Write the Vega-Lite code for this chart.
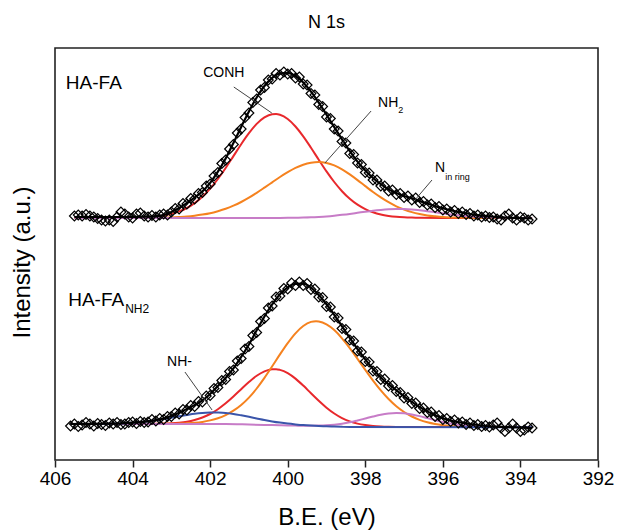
{
"$schema":"https://vega.github.io/schema/vega-lite/v6.json",
"width":543,"height":412,
"autosize":{"type":"none"},
"padding":{"left":55,"top":48,"right":19,"bottom":70},
"background":"white",
"title":{"text":"N 1s","font":"Liberation Sans","fontSize":18,"fontWeight":"normal","color":"black","anchor":"middle","offset":16},
"config":{"view":{"stroke":"#222","strokeWidth":1.6}},
"datasets":{
"comps":[
{"c":"CONH","s":"t","x":405.5,"y":242},{"c":"CONH","s":"t","x":404,"y":242.2},{"c":"CONH","s":"t","x":403.8,"y":242.4},{"c":"CONH","s":"t","x":403.6,"y":242.8},{"c":"CONH","s":"t","x":403.4,"y":243.5},{"c":"CONH","s":"t","x":403.2,"y":244.5},{"c":"CONH","s":"t","x":403,"y":246.1},{"c":"CONH","s":"t","x":402.8,"y":248.6},{"c":"CONH","s":"t","x":402.6,"y":252},{"c":"CONH","s":"t","x":402.4,"y":256.9},{"c":"CONH","s":"t","x":402.2,"y":263.2},{"c":"CONH","s":"t","x":402,"y":271.3},{"c":"CONH","s":"t","x":401.8,"y":281},{"c":"CONH","s":"t","x":401.6,"y":292},{"c":"CONH","s":"t","x":401.4,"y":303.9},{"c":"CONH","s":"t","x":401.2,"y":315.8},{"c":"CONH","s":"t","x":401,"y":326.8},{"c":"CONH","s":"t","x":400.8,"y":336.1},{"c":"CONH","s":"t","x":400.6,"y":342.6},{"c":"CONH","s":"t","x":400.4,"y":345.8},{"c":"CONH","s":"t","x":400.3,"y":346},{"c":"CONH","s":"t","x":400.2,"y":345.2},{"c":"CONH","s":"t","x":400,"y":341},{"c":"CONH","s":"t","x":399.8,"y":333.5},{"c":"CONH","s":"t","x":399.6,"y":323.7},{"c":"CONH","s":"t","x":399.4,"y":312.3},{"c":"CONH","s":"t","x":399.2,"y":300.3},{"c":"CONH","s":"t","x":399,"y":288.6},{"c":"CONH","s":"t","x":398.8,"y":278},{"c":"CONH","s":"t","x":398.6,"y":268.8},{"c":"CONH","s":"t","x":398.4,"y":261.2},{"c":"CONH","s":"t","x":398.2,"y":255.3},{"c":"CONH","s":"t","x":398,"y":250.9},{"c":"CONH","s":"t","x":397.8,"y":247.7},{"c":"CONH","s":"t","x":397.6,"y":245.5},{"c":"CONH","s":"t","x":397.4,"y":244.1},{"c":"CONH","s":"t","x":397.2,"y":243.2},{"c":"CONH","s":"t","x":397,"y":242.7},{"c":"CONH","s":"t","x":396.8,"y":242.4},{"c":"CONH","s":"t","x":396.6,"y":242.2},{"c":"CONH","s":"t","x":396,"y":242},{"c":"CONH","s":"t","x":393.7,"y":242},
{"c":"NH2","s":"t","x":405.5,"y":242},{"c":"NH2","s":"t","x":404,"y":242},{"c":"NH2","s":"t","x":403.6,"y":242.1},{"c":"NH2","s":"t","x":403.4,"y":242.2},{"c":"NH2","s":"t","x":403.2,"y":242.4},{"c":"NH2","s":"t","x":403,"y":242.6},{"c":"NH2","s":"t","x":402.8,"y":243},{"c":"NH2","s":"t","x":402.6,"y":243.5},{"c":"NH2","s":"t","x":402.4,"y":244.3},{"c":"NH2","s":"t","x":402.2,"y":245.4},{"c":"NH2","s":"t","x":402,"y":246.8},{"c":"NH2","s":"t","x":401.8,"y":248.8},{"c":"NH2","s":"t","x":401.6,"y":251.2},{"c":"NH2","s":"t","x":401.4,"y":254.3},{"c":"NH2","s":"t","x":401.2,"y":258},{"c":"NH2","s":"t","x":401,"y":262.3},{"c":"NH2","s":"t","x":400.8,"y":267.2},{"c":"NH2","s":"t","x":400.6,"y":272.4},{"c":"NH2","s":"t","x":400.4,"y":277.7},{"c":"NH2","s":"t","x":400.2,"y":283},{"c":"NH2","s":"t","x":400,"y":287.8},{"c":"NH2","s":"t","x":399.8,"y":292.1},{"c":"NH2","s":"t","x":399.6,"y":295.3},{"c":"NH2","s":"t","x":399.4,"y":297.3},{"c":"NH2","s":"t","x":399.2,"y":298},{"c":"NH2","s":"t","x":399,"y":297.1},{"c":"NH2","s":"t","x":398.8,"y":294.6},{"c":"NH2","s":"t","x":398.6,"y":290.7},{"c":"NH2","s":"t","x":398.4,"y":285.6},{"c":"NH2","s":"t","x":398.2,"y":279.9},{"c":"NH2","s":"t","x":398,"y":273.9},{"c":"NH2","s":"t","x":397.8,"y":268},{"c":"NH2","s":"t","x":397.6,"y":262.6},{"c":"NH2","s":"t","x":397.4,"y":257.8},{"c":"NH2","s":"t","x":397.2,"y":253.7},{"c":"NH2","s":"t","x":397,"y":250.5},{"c":"NH2","s":"t","x":396.8,"y":247.9},{"c":"NH2","s":"t","x":396.6,"y":246},{"c":"NH2","s":"t","x":396.4,"y":244.6},{"c":"NH2","s":"t","x":396.2,"y":243.7},{"c":"NH2","s":"t","x":396,"y":243},{"c":"NH2","s":"t","x":395.8,"y":242.6},{"c":"NH2","s":"t","x":395.6,"y":242.4},{"c":"NH2","s":"t","x":395.4,"y":242.2},{"c":"NH2","s":"t","x":395,"y":242.05},{"c":"NH2","s":"t","x":393.7,"y":242},
{"c":"Nring","s":"t","x":405.5,"y":242},{"c":"Nring","s":"t","x":400.4,"y":242},{"c":"Nring","s":"t","x":400.2,"y":242.1},{"c":"Nring","s":"t","x":400,"y":242.15},{"c":"Nring","s":"t","x":399.8,"y":242.3},{"c":"Nring","s":"t","x":399.6,"y":242.45},{"c":"Nring","s":"t","x":399.4,"y":242.7},{"c":"Nring","s":"t","x":399.2,"y":243.1},{"c":"Nring","s":"t","x":399,"y":243.6},{"c":"Nring","s":"t","x":398.8,"y":244.3},{"c":"Nring","s":"t","x":398.6,"y":245.15},{"c":"Nring","s":"t","x":398.4,"y":246.1},{"c":"Nring","s":"t","x":398.2,"y":247.2},{"c":"Nring","s":"t","x":398,"y":248.3},{"c":"Nring","s":"t","x":397.8,"y":249.3},{"c":"Nring","s":"t","x":397.6,"y":250.1},{"c":"Nring","s":"t","x":397.4,"y":250.7},{"c":"Nring","s":"t","x":397.2,"y":251},{"c":"Nring","s":"t","x":397,"y":250.9},{"c":"Nring","s":"t","x":396.8,"y":250.5},{"c":"Nring","s":"t","x":396.6,"y":249.7},{"c":"Nring","s":"t","x":396.4,"y":248.8},{"c":"Nring","s":"t","x":396.2,"y":247.7},{"c":"Nring","s":"t","x":396,"y":246.65},{"c":"Nring","s":"t","x":395.8,"y":245.6},{"c":"Nring","s":"t","x":395.6,"y":244.7},{"c":"Nring","s":"t","x":395.4,"y":243.95},{"c":"Nring","s":"t","x":395.2,"y":243.35},{"c":"Nring","s":"t","x":395,"y":242.9},{"c":"Nring","s":"t","x":394.8,"y":242.55},{"c":"Nring","s":"t","x":394.6,"y":242.35},{"c":"Nring","s":"t","x":394.4,"y":242.2},{"c":"Nring","s":"t","x":394.2,"y":242.1},{"c":"Nring","s":"t","x":394,"y":242.05},{"c":"Nring","s":"t","x":393.7,"y":242},
{"c":"CONH","s":"b","x":405.6,"y":36},{"c":"CONH","s":"b","x":403.6,"y":36},{"c":"CONH","s":"b","x":403.4,"y":36.2},{"c":"CONH","s":"b","x":403.2,"y":36.4},{"c":"CONH","s":"b","x":403,"y":36.7},{"c":"CONH","s":"b","x":402.8,"y":37.3},{"c":"CONH","s":"b","x":402.6,"y":38.3},{"c":"CONH","s":"b","x":402.4,"y":40},{"c":"CONH","s":"b","x":402.2,"y":42.5},{"c":"CONH","s":"b","x":402,"y":46},{"c":"CONH","s":"b","x":401.8,"y":50.8},{"c":"CONH","s":"b","x":401.6,"y":56.7},{"c":"CONH","s":"b","x":401.4,"y":63.5},{"c":"CONH","s":"b","x":401.2,"y":70.8},{"c":"CONH","s":"b","x":401,"y":77.9},{"c":"CONH","s":"b","x":400.8,"y":84.2},{"c":"CONH","s":"b","x":400.6,"y":88.6},{"c":"CONH","s":"b","x":400.4,"y":90.7},{"c":"CONH","s":"b","x":400.3,"y":90.8},{"c":"CONH","s":"b","x":400.2,"y":90.1},{"c":"CONH","s":"b","x":400,"y":86.9},{"c":"CONH","s":"b","x":399.8,"y":81.4},{"c":"CONH","s":"b","x":399.6,"y":74.4},{"c":"CONH","s":"b","x":399.4,"y":66.7},{"c":"CONH","s":"b","x":399.2,"y":59.2},{"c":"CONH","s":"b","x":399,"y":52.3},{"c":"CONH","s":"b","x":398.8,"y":46.5},{"c":"CONH","s":"b","x":398.6,"y":41.9},{"c":"CONH","s":"b","x":398.4,"y":38.6},{"c":"CONH","s":"b","x":398.2,"y":36.4},{"c":"CONH","s":"b","x":398,"y":35},{"c":"CONH","s":"b","x":397.8,"y":34.1},{"c":"CONH","s":"b","x":397.6,"y":33.6},{"c":"CONH","s":"b","x":397.4,"y":33.3},{"c":"CONH","s":"b","x":397.2,"y":33.1},{"c":"CONH","s":"b","x":397,"y":33},{"c":"CONH","s":"b","x":393.7,"y":33},
{"c":"NH2","s":"b","x":405.6,"y":36},{"c":"NH2","s":"b","x":403,"y":36.2},{"c":"NH2","s":"b","x":402.8,"y":36.4},{"c":"NH2","s":"b","x":402.6,"y":36.7},{"c":"NH2","s":"b","x":402.4,"y":37.2},{"c":"NH2","s":"b","x":402.2,"y":38.1},{"c":"NH2","s":"b","x":402,"y":39.6},{"c":"NH2","s":"b","x":401.8,"y":41.7},{"c":"NH2","s":"b","x":401.6,"y":44.9},{"c":"NH2","s":"b","x":401.4,"y":49.3},{"c":"NH2","s":"b","x":401.2,"y":55},{"c":"NH2","s":"b","x":401,"y":62.4},{"c":"NH2","s":"b","x":400.8,"y":71.5},{"c":"NH2","s":"b","x":400.6,"y":82.1},{"c":"NH2","s":"b","x":400.4,"y":93.7},{"c":"NH2","s":"b","x":400.2,"y":105.6},{"c":"NH2","s":"b","x":400,"y":116.9},{"c":"NH2","s":"b","x":399.8,"y":126.7},{"c":"NH2","s":"b","x":399.6,"y":134},{"c":"NH2","s":"b","x":399.4,"y":138.1},{"c":"NH2","s":"b","x":399.27,"y":138.8},{"c":"NH2","s":"b","x":399.2,"y":138.5},{"c":"NH2","s":"b","x":399,"y":135.6},{"c":"NH2","s":"b","x":398.8,"y":129.9},{"c":"NH2","s":"b","x":398.6,"y":121.7},{"c":"NH2","s":"b","x":398.4,"y":111.9},{"c":"NH2","s":"b","x":398.2,"y":101.1},{"c":"NH2","s":"b","x":398,"y":90.1},{"c":"NH2","s":"b","x":397.8,"y":79.4},{"c":"NH2","s":"b","x":397.6,"y":69.6},{"c":"NH2","s":"b","x":397.4,"y":61},{"c":"NH2","s":"b","x":397.2,"y":53.8},{"c":"NH2","s":"b","x":397,"y":48},{"c":"NH2","s":"b","x":396.8,"y":43.5},{"c":"NH2","s":"b","x":396.6,"y":40.1},{"c":"NH2","s":"b","x":396.4,"y":37.7},{"c":"NH2","s":"b","x":396.2,"y":36},{"c":"NH2","s":"b","x":396,"y":34.85},{"c":"NH2","s":"b","x":395.8,"y":34.1},{"c":"NH2","s":"b","x":395.6,"y":33.6},{"c":"NH2","s":"b","x":395.4,"y":33.4},{"c":"NH2","s":"b","x":395.2,"y":33.2},{"c":"NH2","s":"b","x":395,"y":33.1},{"c":"NH2","s":"b","x":393.7,"y":33},
{"c":"Nring","s":"b","x":405.6,"y":36},{"c":"Nring","s":"b","x":401.6,"y":36},{"c":"Nring","s":"b","x":401,"y":35.5},{"c":"Nring","s":"b","x":400.6,"y":35.1},{"c":"Nring","s":"b","x":400.2,"y":34.7},{"c":"Nring","s":"b","x":400,"y":34.5},{"c":"Nring","s":"b","x":399.8,"y":34.4},{"c":"Nring","s":"b","x":399.6,"y":34.3},{"c":"Nring","s":"b","x":399.4,"y":34.3},{"c":"Nring","s":"b","x":399.2,"y":34.4},{"c":"Nring","s":"b","x":399,"y":34.7},{"c":"Nring","s":"b","x":398.8,"y":35.3},{"c":"Nring","s":"b","x":398.6,"y":36.25},{"c":"Nring","s":"b","x":398.4,"y":37.65},{"c":"Nring","s":"b","x":398.2,"y":39.5},{"c":"Nring","s":"b","x":398,"y":41.5},{"c":"Nring","s":"b","x":397.8,"y":43.5},{"c":"Nring","s":"b","x":397.6,"y":45.3},{"c":"Nring","s":"b","x":397.4,"y":46.5},{"c":"Nring","s":"b","x":397.2,"y":47},{"c":"Nring","s":"b","x":397,"y":46.7},{"c":"Nring","s":"b","x":396.8,"y":45.6},{"c":"Nring","s":"b","x":396.6,"y":43.9},{"c":"Nring","s":"b","x":396.4,"y":41.9},{"c":"Nring","s":"b","x":396.2,"y":39.9},{"c":"Nring","s":"b","x":396,"y":38},{"c":"Nring","s":"b","x":395.8,"y":36.4},{"c":"Nring","s":"b","x":395.6,"y":35.2},{"c":"Nring","s":"b","x":395.4,"y":34.3},{"c":"Nring","s":"b","x":395.2,"y":33.8},{"c":"Nring","s":"b","x":395,"y":33.4},{"c":"Nring","s":"b","x":394.8,"y":33.2},{"c":"Nring","s":"b","x":394.6,"y":33.1},{"c":"Nring","s":"b","x":393.7,"y":33},
{"c":"NH","s":"b","x":405.6,"y":36},{"c":"NH","s":"b","x":405,"y":36.05},{"c":"NH","s":"b","x":404.6,"y":36.2},{"c":"NH","s":"b","x":404.4,"y":36.5},{"c":"NH","s":"b","x":404.2,"y":36.8},{"c":"NH","s":"b","x":404,"y":37.3},{"c":"NH","s":"b","x":403.8,"y":37.9},{"c":"NH","s":"b","x":403.6,"y":38.7},{"c":"NH","s":"b","x":403.4,"y":39.7},{"c":"NH","s":"b","x":403.2,"y":40.9},{"c":"NH","s":"b","x":403,"y":42.3},{"c":"NH","s":"b","x":402.8,"y":43.7},{"c":"NH","s":"b","x":402.6,"y":45},{"c":"NH","s":"b","x":402.4,"y":46.2},{"c":"NH","s":"b","x":402.2,"y":47},{"c":"NH","s":"b","x":402,"y":47.4},{"c":"NH","s":"b","x":401.9,"y":47.5},{"c":"NH","s":"b","x":401.8,"y":47.4},{"c":"NH","s":"b","x":401.6,"y":47},{"c":"NH","s":"b","x":401.4,"y":46.05},{"c":"NH","s":"b","x":401.2,"y":44.7},{"c":"NH","s":"b","x":401,"y":43.2},{"c":"NH","s":"b","x":400.8,"y":41.6},{"c":"NH","s":"b","x":400.6,"y":40},{"c":"NH","s":"b","x":400.4,"y":38.6},{"c":"NH","s":"b","x":400.2,"y":37.4},{"c":"NH","s":"b","x":400,"y":36.4},{"c":"NH","s":"b","x":399.8,"y":35.6},{"c":"NH","s":"b","x":399.6,"y":34.9},{"c":"NH","s":"b","x":399.4,"y":34.4},{"c":"NH","s":"b","x":399.2,"y":34},{"c":"NH","s":"b","x":399,"y":33.7},{"c":"NH","s":"b","x":398.8,"y":33.4},{"c":"NH","s":"b","x":398.6,"y":33.15},{"c":"NH","s":"b","x":398.4,"y":33},{"c":"NH","s":"b","x":393.7,"y":32.8}
],
"fit":[
{"s":"t","x":405.5,"y":243},{"s":"t","x":405,"y":243},{"s":"t","x":404.5,"y":243},{"s":"t","x":404,"y":243},{"s":"t","x":403.8,"y":243.3},{"s":"t","x":403.6,"y":243.4},{"s":"t","x":403.4,"y":243.8},{"s":"t","x":403.2,"y":245},{"s":"t","x":403,"y":248},{"s":"t","x":402.8,"y":252},{"s":"t","x":402.6,"y":257},{"s":"t","x":402.4,"y":262.4},{"s":"t","x":402.2,"y":268.6},{"s":"t","x":402,"y":277.1},{"s":"t","x":401.8,"y":288.3},{"s":"t","x":401.6,"y":301.5},{"s":"t","x":401.4,"y":317},{"s":"t","x":401.2,"y":333},{"s":"t","x":401,"y":348.6},{"s":"t","x":400.8,"y":362.5},{"s":"t","x":400.6,"y":374},{"s":"t","x":400.4,"y":382.2},{"s":"t","x":400.2,"y":386.6},{"s":"t","x":400,"y":387.2},{"s":"t","x":399.8,"y":384},{"s":"t","x":399.6,"y":377.5},{"s":"t","x":399.4,"y":368.3},{"s":"t","x":399.2,"y":357.4},{"s":"t","x":399,"y":345.3},{"s":"t","x":398.8,"y":332.9},{"s":"t","x":398.6,"y":320.7},{"s":"t","x":398.4,"y":308.9},{"s":"t","x":398.2,"y":298.4},{"s":"t","x":398,"y":289.5},{"s":"t","x":397.8,"y":282},{"s":"t","x":397.6,"y":275.8},{"s":"t","x":397.4,"y":270.6},{"s":"t","x":397.2,"y":266.9},{"s":"t","x":397,"y":264},{"s":"t","x":396.8,"y":261.7},{"s":"t","x":396.6,"y":258.9},{"s":"t","x":396.4,"y":256.5},{"s":"t","x":396.2,"y":253.9},{"s":"t","x":396,"y":251.7},{"s":"t","x":395.8,"y":249.7},{"s":"t","x":395.6,"y":248.1},{"s":"t","x":395.4,"y":246.7},{"s":"t","x":395.2,"y":245.4},{"s":"t","x":395,"y":244.4},{"s":"t","x":394.8,"y":243.6},{"s":"t","x":394.6,"y":242.9},{"s":"t","x":394.4,"y":242.5},{"s":"t","x":394.2,"y":242.2},{"s":"t","x":394,"y":242},{"s":"t","x":393.7,"y":241.5},
{"s":"b","x":405.6,"y":36},{"s":"b","x":405,"y":36.1},{"s":"b","x":404.6,"y":36.3},{"s":"b","x":404.4,"y":36.5},{"s":"b","x":404.2,"y":36.8},{"s":"b","x":404,"y":37.3},{"s":"b","x":403.8,"y":37.9},{"s":"b","x":403.6,"y":38.7},{"s":"b","x":403.4,"y":39.9},{"s":"b","x":403.2,"y":41.5},{"s":"b","x":403,"y":44.2},{"s":"b","x":402.8,"y":47.3},{"s":"b","x":402.6,"y":51},{"s":"b","x":402.4,"y":54.9},{"s":"b","x":402.2,"y":59.6},{"s":"b","x":402,"y":66},{"s":"b","x":401.8,"y":74},{"s":"b","x":401.6,"y":82.1},{"s":"b","x":401.4,"y":91.6},{"s":"b","x":401.2,"y":103.1},{"s":"b","x":401,"y":115.5},{"s":"b","x":400.8,"y":129.7},{"s":"b","x":400.6,"y":143.5},{"s":"b","x":400.4,"y":155.7},{"s":"b","x":400.2,"y":165.7},{"s":"b","x":400,"y":172.7},{"s":"b","x":399.8,"y":176.2},{"s":"b","x":399.6,"y":176.3},{"s":"b","x":399.4,"y":172.3},{"s":"b","x":399.2,"y":165},{"s":"b","x":399,"y":155.8},{"s":"b","x":398.8,"y":145.2},{"s":"b","x":398.6,"y":133.7},{"s":"b","x":398.4,"y":122.2},{"s":"b","x":398.2,"y":111},{"s":"b","x":398,"y":100.6},{"s":"b","x":397.8,"y":91},{"s":"b","x":397.6,"y":82.5},{"s":"b","x":397.4,"y":75.8},{"s":"b","x":397.2,"y":69.9},{"s":"b","x":397,"y":63.7},{"s":"b","x":396.8,"y":58.1},{"s":"b","x":396.6,"y":53},{"s":"b","x":396.4,"y":48.6},{"s":"b","x":396.2,"y":44.8},{"s":"b","x":396,"y":41.8},{"s":"b","x":395.8,"y":39.5},{"s":"b","x":395.6,"y":37.8},{"s":"b","x":395.4,"y":36.7},{"s":"b","x":395.2,"y":35.5},{"s":"b","x":395,"y":34.5},{"s":"b","x":394.8,"y":33.7},{"s":"b","x":394.6,"y":33.2},{"s":"b","x":394.4,"y":33},{"s":"b","x":394,"y":32.5},{"s":"b","x":393.7,"y":32}
],
"pts":[
{"s":"t","x":405.5,"y":244},{"s":"t","x":405.4,"y":245},{"s":"t","x":405.3,"y":244},{"s":"t","x":405.2,"y":245.5},{"s":"t","x":405.1,"y":244},{"s":"t","x":405.0,"y":243},{"s":"t","x":404.9,"y":241.5},{"s":"t","x":404.8,"y":240},{"s":"t","x":404.7,"y":239},{"s":"t","x":404.6,"y":240},{"s":"t","x":404.5,"y":238.5},{"s":"t","x":404.4,"y":243},{"s":"t","x":404.3,"y":248},{"s":"t","x":404.2,"y":246},{"s":"t","x":404.1,"y":243},{"s":"t","x":404.0,"y":242},{"s":"t","x":403.9,"y":246},{"s":"t","x":403.8,"y":247},{"s":"t","x":403.7,"y":244},{"s":"t","x":403.6,"y":243},{"s":"t","x":403.5,"y":244.5},{"s":"t","x":403.4,"y":243},{"s":"t","x":403.3,"y":245},{"s":"t","x":403.2,"y":246},{"s":"t","x":403.1,"y":245},{"s":"t","x":403.0,"y":248},{"s":"t","x":402.9,"y":251.5},{"s":"t","x":402.8,"y":251},{"s":"t","x":402.7,"y":256.5},{"s":"t","x":402.6,"y":256},{"s":"t","x":402.5,"y":261.5},{"s":"t","x":402.4,"y":261},{"s":"t","x":402.3,"y":266.5},{"s":"t","x":402.2,"y":267.5},{"s":"t","x":402.1,"y":274},{"s":"t","x":402.0,"y":276},{"s":"t","x":401.9,"y":284},{"s":"t","x":401.8,"y":287.5},{"s":"t","x":401.7,"y":296.5},{"s":"t","x":401.6,"y":300},{"s":"t","x":401.5,"y":311},{"s":"t","x":401.4,"y":315.5},{"s":"t","x":401.3,"y":327},{"s":"t","x":401.2,"y":331},{"s":"t","x":401.1,"y":342.5},{"s":"t","x":401.0,"y":347},{"s":"t","x":400.9,"y":357.5},{"s":"t","x":400.8,"y":361},{"s":"t","x":400.7,"y":370},{"s":"t","x":400.6,"y":372.5},{"s":"t","x":400.5,"y":380},{"s":"t","x":400.4,"y":381},{"s":"t","x":400.3,"y":386.5},{"s":"t","x":400.2,"y":385},{"s":"t","x":400.1,"y":388},{"s":"t","x":400.0,"y":386},{"s":"t","x":399.9,"y":386.5},{"s":"t","x":399.8,"y":382},{"s":"t","x":399.7,"y":383},{"s":"t","x":399.6,"y":376},{"s":"t","x":399.5,"y":375},{"s":"t","x":399.4,"y":366.5},{"s":"t","x":399.3,"y":365},{"s":"t","x":399.2,"y":355.5},{"s":"t","x":399.1,"y":353.5},{"s":"t","x":399.0,"y":343},{"s":"t","x":398.9,"y":341.5},{"s":"t","x":398.8,"y":331},{"s":"t","x":398.7,"y":329},{"s":"t","x":398.6,"y":318.5},{"s":"t","x":398.5,"y":317},{"s":"t","x":398.4,"y":306.5},{"s":"t","x":398.3,"y":305.5},{"s":"t","x":398.2,"y":297},{"s":"t","x":398.1,"y":295.5},{"s":"t","x":398.0,"y":287.5},{"s":"t","x":397.9,"y":287},{"s":"t","x":397.8,"y":280},{"s":"t","x":397.7,"y":280},{"s":"t","x":397.6,"y":274},{"s":"t","x":397.5,"y":274},{"s":"t","x":397.4,"y":269},{"s":"t","x":397.3,"y":270},{"s":"t","x":397.2,"y":265.5},{"s":"t","x":397.1,"y":266.5},{"s":"t","x":397.0,"y":262.5},{"s":"t","x":396.9,"y":264},{"s":"t","x":396.8,"y":260},{"s":"t","x":396.7,"y":262},{"s":"t","x":396.6,"y":257.5},{"s":"t","x":396.5,"y":258.5},{"s":"t","x":396.4,"y":255},{"s":"t","x":396.3,"y":256},{"s":"t","x":396.2,"y":252.5},{"s":"t","x":396.1,"y":253.5},{"s":"t","x":396.0,"y":250},{"s":"t","x":395.9,"y":251},{"s":"t","x":395.8,"y":248},{"s":"t","x":395.7,"y":249.5},{"s":"t","x":395.6,"y":246.5},{"s":"t","x":395.5,"y":248},{"s":"t","x":395.4,"y":245.5},{"s":"t","x":395.3,"y":246.5},{"s":"t","x":395.2,"y":244},{"s":"t","x":395.1,"y":245},{"s":"t","x":395.0,"y":243},{"s":"t","x":394.9,"y":244},{"s":"t","x":394.8,"y":242.5},{"s":"t","x":394.7,"y":243},{"s":"t","x":394.6,"y":241},{"s":"t","x":394.5,"y":240},{"s":"t","x":394.4,"y":244},{"s":"t","x":394.3,"y":246},{"s":"t","x":394.2,"y":242},{"s":"t","x":394.1,"y":240},{"s":"t","x":394.0,"y":243},{"s":"t","x":393.9,"y":242},{"s":"t","x":393.8,"y":240},{"s":"t","x":393.7,"y":241},
{"s":"b","x":405.6,"y":34},{"s":"b","x":405.5,"y":36},{"s":"b","x":405.4,"y":33.5},{"s":"b","x":405.3,"y":35},{"s":"b","x":405.2,"y":37.5},{"s":"b","x":405.1,"y":36},{"s":"b","x":405.0,"y":34},{"s":"b","x":404.9,"y":36.5},{"s":"b","x":404.8,"y":35.5},{"s":"b","x":404.7,"y":34.5},{"s":"b","x":404.6,"y":37},{"s":"b","x":404.5,"y":36},{"s":"b","x":404.4,"y":37.5},{"s":"b","x":404.3,"y":35.5},{"s":"b","x":404.2,"y":36},{"s":"b","x":404.1,"y":37.5},{"s":"b","x":404.0,"y":38},{"s":"b","x":403.9,"y":36.5},{"s":"b","x":403.8,"y":38.5},{"s":"b","x":403.7,"y":37.5},{"s":"b","x":403.6,"y":38},{"s":"b","x":403.5,"y":40.5},{"s":"b","x":403.4,"y":39},{"s":"b","x":403.3,"y":41.5},{"s":"b","x":403.2,"y":40.5},{"s":"b","x":403.1,"y":43.5},{"s":"b","x":403.0,"y":43.5},{"s":"b","x":402.9,"y":47},{"s":"b","x":402.8,"y":46},{"s":"b","x":402.7,"y":50.5},{"s":"b","x":402.6,"y":50},{"s":"b","x":402.5,"y":54.5},{"s":"b","x":402.4,"y":53.5},{"s":"b","x":402.3,"y":58.5},{"s":"b","x":402.2,"y":58},{"s":"b","x":402.1,"y":64},{"s":"b","x":402.0,"y":64.5},{"s":"b","x":401.9,"y":71.5},{"s":"b","x":401.8,"y":72.5},{"s":"b","x":401.7,"y":79.5},{"s":"b","x":401.6,"y":80.5},{"s":"b","x":401.5,"y":88.5},{"s":"b","x":401.4,"y":90},{"s":"b","x":401.3,"y":99},{"s":"b","x":401.2,"y":101.5},{"s":"b","x":401.1,"y":111},{"s":"b","x":401.0,"y":113.5},{"s":"b","x":400.9,"y":124.5},{"s":"b","x":400.8,"y":127.5},{"s":"b","x":400.7,"y":138.5},{"s":"b","x":400.6,"y":141.5},{"s":"b","x":400.5,"y":152},{"s":"b","x":400.4,"y":154},{"s":"b","x":400.3,"y":163},{"s":"b","x":400.2,"y":164},{"s":"b","x":400.1,"y":171.5},{"s":"b","x":400.0,"y":171},{"s":"b","x":399.9,"y":177},{"s":"b","x":399.8,"y":174.5},{"s":"b","x":399.7,"y":178},{"s":"b","x":399.6,"y":174.5},{"s":"b","x":399.5,"y":176.5},{"s":"b","x":399.4,"y":170.5},{"s":"b","x":399.3,"y":171},{"s":"b","x":399.2,"y":163},{"s":"b","x":399.1,"y":162.5},{"s":"b","x":399.0,"y":153.5},{"s":"b","x":398.9,"y":153},{"s":"b","x":398.8,"y":143},{"s":"b","x":398.7,"y":142},{"s":"b","x":398.6,"y":131.5},{"s":"b","x":398.5,"y":130.5},{"s":"b","x":398.4,"y":120},{"s":"b","x":398.3,"y":119},{"s":"b","x":398.2,"y":109},{"s":"b","x":398.1,"y":108},{"s":"b","x":398.0,"y":98.5},{"s":"b","x":397.9,"y":98},{"s":"b","x":397.8,"y":89},{"s":"b","x":397.7,"y":88.5},{"s":"b","x":397.6,"y":80.5},{"s":"b","x":397.5,"y":81},{"s":"b","x":397.4,"y":74},{"s":"b","x":397.3,"y":74.5},{"s":"b","x":397.2,"y":68.5},{"s":"b","x":397.1,"y":67.5},{"s":"b","x":397.0,"y":62},{"s":"b","x":396.9,"y":62.5},{"s":"b","x":396.8,"y":56.5},{"s":"b","x":396.7,"y":57},{"s":"b","x":396.6,"y":51.5},{"s":"b","x":396.5,"y":52},{"s":"b","x":396.4,"y":47.5},{"s":"b","x":396.3,"y":48},{"s":"b","x":396.2,"y":43.5},{"s":"b","x":396.1,"y":44.5},{"s":"b","x":396.0,"y":40.5},{"s":"b","x":395.9,"y":41.5},{"s":"b","x":395.8,"y":38.5},{"s":"b","x":395.7,"y":40},{"s":"b","x":395.6,"y":37},{"s":"b","x":395.5,"y":38},{"s":"b","x":395.4,"y":35.5},{"s":"b","x":395.3,"y":37},{"s":"b","x":395.2,"y":34.5},{"s":"b","x":395.1,"y":35.5},{"s":"b","x":395.0,"y":33.5},{"s":"b","x":394.9,"y":34.5},{"s":"b","x":394.8,"y":33},{"s":"b","x":394.7,"y":35},{"s":"b","x":394.6,"y":37},{"s":"b","x":394.5,"y":32},{"s":"b","x":394.4,"y":28.5},{"s":"b","x":394.3,"y":32},{"s":"b","x":394.2,"y":36},{"s":"b","x":394.1,"y":32},{"s":"b","x":394.0,"y":28.5},{"s":"b","x":393.9,"y":30},{"s":"b","x":393.8,"y":33},{"s":"b","x":393.7,"y":32}
],
"labels":[
{"t":"HA-FA","k":"sample","x":405.72,"y":377},
{"t":"HA-FA","k":"sample","x":405.66,"y":160},
{"t":"NH2","k":"samplesub","x":404.19,"y":151},
{"t":"CONH","k":"peak","x":402.18,"y":387},
{"t":"NH","k":"peak","x":397.67,"y":357},
{"t":"2","k":"sub","x":397.15,"y":350},
{"t":"N","k":"peak","x":396.2,"y":292},
{"t":"in ring","k":"sub","x":395.94,"y":283},
{"t":"NH-","k":"peak","x":403.11,"y":98}
],
"leaders":[
{"x":401.39,"y":373,"x2":400.41,"y2":347},
{"x":397.85,"y":349,"x2":399.04,"y2":297},
{"x":396.28,"y":280,"x2":396.72,"y2":260},
{"x":402.65,"y":88,"x2":401.95,"y2":50}
]
},
"layer":[
{"data":{"name":"comps"},
 "mark":{"type":"line","strokeWidth":2,"interpolate":"monotone"},
 "encoding":{
  "x":{"field":"x","type":"quantitative","scale":{"domain":[392,406],"reverse":true,"nice":false,"zero":false},
   "axis":{"values":[406,405,404,403,402,401,400,399,398,397,396,395,394,393,392],
    "labelExpr":"datum.value % 2 === 0 ? datum.label : ''",
    "tickSize":{"condition":{"test":"datum.value % 2 === 0","value":7},"value":4},
    "tickColor":"#222","tickWidth":1.5,"domain":false,"grid":false,
    "labelFont":"Liberation Sans","labelFontSize":19,"labelColor":"black","labelPadding":2,"labelFlush":false,"labelOverlap":false,
    "title":"B.E. (eV)","titleFont":"Liberation Sans","titleFontSize":24,"titleFontWeight":"normal","titleColor":"black",
    "titleX":271.5,"titleY":57,"titleBaseline":"middle","titleAlign":"center"}},
  "y":{"field":"y","type":"quantitative","scale":{"domain":[0,412],"nice":false,"zero":false},
   "axis":{"title":"Intensity (a.u.)","ticks":false,"labels":false,"domain":false,"grid":false,
    "titleFont":"Liberation Sans","titleFontSize":24,"titleFontWeight":"normal","titleColor":"black",
    "titleX":-33,"titleY":214,"titleAngle":270,"titleAlign":"center","titleBaseline":"middle"}},
  "color":{"field":"c","type":"nominal","scale":{"domain":["CONH","NH2","Nring","NH"],"range":["#e8282c","#f5821f","#c77cc7","#3a55aa"]},"legend":null},
  "detail":{"field":"s"}
 }},
{"data":{"name":"pts"},
 "mark":{"type":"point","shape":"diamond","size":95,"filled":false,"stroke":"black","strokeWidth":1.2,"opacity":1},
 "encoding":{"x":{"field":"x","type":"quantitative"},"y":{"field":"y","type":"quantitative"}}},
{"data":{"name":"fit"},
 "mark":{"type":"line","strokeWidth":2.2,"color":"black","interpolate":"monotone"},
 "encoding":{"x":{"field":"x","type":"quantitative"},"y":{"field":"y","type":"quantitative"},"detail":{"field":"s"}}},
{"data":{"name":"leaders"},
 "mark":{"type":"rule","color":"#444","strokeWidth":1},
 "encoding":{"x":{"field":"x","type":"quantitative"},"y":{"field":"y","type":"quantitative"},"x2":{"field":"x2"},"y2":{"field":"y2"}}},
{"data":{"name":"labels"},"transform":[{"filter":"datum.k === 'sample'"}],
 "mark":{"type":"text","align":"left","baseline":"middle","font":"Liberation Sans","fontSize":19,"color":"black"},
 "encoding":{"x":{"field":"x","type":"quantitative"},"y":{"field":"y","type":"quantitative"},"text":{"field":"t"}}},
{"data":{"name":"labels"},"transform":[{"filter":"datum.k === 'samplesub'"}],
 "mark":{"type":"text","align":"left","baseline":"middle","font":"Liberation Sans","fontSize":12,"color":"black"},
 "encoding":{"x":{"field":"x","type":"quantitative"},"y":{"field":"y","type":"quantitative"},"text":{"field":"t"}}},
{"data":{"name":"labels"},"transform":[{"filter":"datum.k === 'peak'"}],
 "mark":{"type":"text","align":"left","baseline":"middle","font":"Liberation Sans","fontSize":14,"color":"black"},
 "encoding":{"x":{"field":"x","type":"quantitative"},"y":{"field":"y","type":"quantitative"},"text":{"field":"t"}}},
{"data":{"name":"labels"},"transform":[{"filter":"datum.k === 'sub'"}],
 "mark":{"type":"text","align":"left","baseline":"middle","font":"Liberation Sans","fontSize":9,"color":"black"},
 "encoding":{"x":{"field":"x","type":"quantitative"},"y":{"field":"y","type":"quantitative"},"text":{"field":"t"}}}
]
}
